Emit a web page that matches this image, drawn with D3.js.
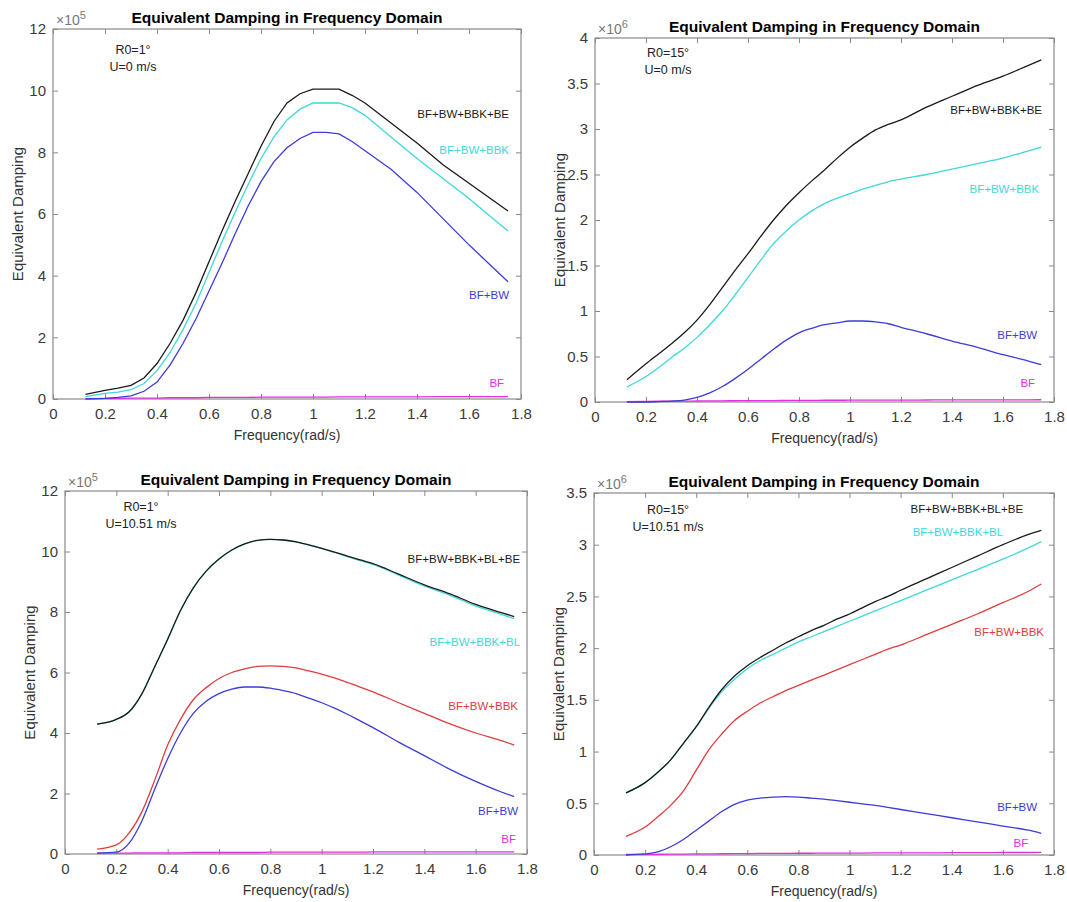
<!DOCTYPE html>
<html>
<head>
<meta charset="utf-8">
<script src="https://cdn.jsdelivr.net/npm/d3@7"></script>
<style>
    body { margin: 0; background: #fff; }
    svg text { font-family: "Liberation Sans", Arial, sans-serif; }
</style>
</head>
<body>
<svg id="chart" width="1067" height="902"></svg>
<script>
// frequency samples (rad/s), shared by every curve
const freq = [0.125, 0.2, 0.25, 0.3, 0.35, 0.4, 0.45, 0.5, 0.55, 0.6, 0.65, 0.7, 0.75, 0.8, 0.85, 0.9, 0.95, 1.0, 1.05, 1.1, 1.15, 1.2, 1.3, 1.4, 1.5, 1.6, 1.7, 1.75];
const xTicks = [0, 0.2, 0.4, 0.6, 0.8, 1, 1.2, 1.4, 1.6, 1.8];

// R0=1 deg, U=0 m/s  (x1e5)
const r1u0_bf = [0.01, 0.02, 0.02, 0.03, 0.03, 0.03, 0.04, 0.04, 0.04, 0.05, 0.05, 0.05, 0.05, 0.06, 0.06, 0.06, 0.06, 0.06, 0.06, 0.07, 0.07, 0.07, 0.07, 0.07, 0.08, 0.08, 0.08, 0.08];
const r1u0_bw = [0.0, 0.02, 0.05, 0.1, 0.25, 0.55, 1.1, 1.8, 2.6, 3.5, 4.4, 5.35, 6.25, 7.05, 7.7, 8.15, 8.45, 8.65, 8.65, 8.6, 8.35, 8.05, 7.45, 6.7, 5.85, 5.0, 4.2, 3.8];
const r1u0_bbk = [0.08, 0.18, 0.22, 0.3, 0.5, 0.92, 1.5, 2.25, 3.1, 4.1, 5.1, 6.05, 6.95, 7.8, 8.5, 9.05, 9.4, 9.6, 9.6, 9.6, 9.45, 9.2, 8.5, 7.8, 7.15, 6.5, 5.8, 5.45];
const r1u0_be = [0.15, 0.28, 0.35, 0.44, 0.68, 1.15, 1.8, 2.55, 3.45, 4.45, 5.45, 6.4, 7.3, 8.2, 9.0, 9.6, 9.9, 10.05, 10.05, 10.05, 9.85, 9.6, 8.95, 8.3, 7.6, 7.0, 6.4, 6.1];

// R0=15 deg, U=0 m/s  (x1e6)
const r15u0_bf = [0.005, 0.007, 0.008, 0.009, 0.01, 0.011, 0.012, 0.013, 0.014, 0.015, 0.016, 0.016, 0.017, 0.018, 0.018, 0.019, 0.019, 0.02, 0.02, 0.021, 0.021, 0.021, 0.022, 0.023, 0.023, 0.024, 0.024, 0.025];
const r15u0_bw = [0, 0, 0.005, 0.01, 0.02, 0.05, 0.1, 0.17, 0.26, 0.36, 0.47, 0.58, 0.68, 0.76, 0.81, 0.85, 0.87, 0.89, 0.89, 0.88, 0.86, 0.82, 0.75, 0.67, 0.6, 0.52, 0.45, 0.41];
const r15u0_bbk = [0.165, 0.28, 0.38, 0.49, 0.59, 0.71, 0.85, 1.0, 1.18, 1.37, 1.56, 1.74, 1.88, 2.0, 2.1, 2.18, 2.24, 2.29, 2.34, 2.38, 2.42, 2.45, 2.5, 2.56, 2.62, 2.68, 2.76, 2.8];
const r15u0_be = [0.245, 0.42, 0.53, 0.64, 0.76, 0.9, 1.07, 1.26, 1.45, 1.63, 1.82, 2.0, 2.16, 2.3, 2.43, 2.55, 2.68, 2.8, 2.9, 2.99, 3.05, 3.1, 3.24, 3.36, 3.48, 3.58, 3.7, 3.76];

// R0=1 deg, U=10.51 m/s  (x1e5)
const r1u10_bf = [0.03, 0.03, 0.03, 0.04, 0.04, 0.04, 0.04, 0.05, 0.05, 0.05, 0.05, 0.05, 0.05, 0.06, 0.06, 0.06, 0.06, 0.06, 0.06, 0.06, 0.06, 0.07, 0.07, 0.07, 0.07, 0.07, 0.07, 0.07];
const r1u10_bw = [0.03, 0.06, 0.36, 1.1, 2.15, 3.15, 4.0, 4.65, 5.05, 5.3, 5.45, 5.52, 5.52, 5.48, 5.4, 5.3, 5.15, 5.0, 4.82, 4.62, 4.4, 4.18, 3.7, 3.25, 2.8, 2.4, 2.05, 1.9];
const r1u10_bbk = [0.16, 0.3, 0.7, 1.4, 2.45, 3.6, 4.45, 5.1, 5.5, 5.8, 6.0, 6.12, 6.2, 6.22, 6.2, 6.15, 6.05, 5.95, 5.82, 5.67, 5.52, 5.36, 5.0, 4.65, 4.3, 4.0, 3.75, 3.6];
const r1u10_bl = [4.29, 4.45, 4.7, 5.3, 6.2, 7.1, 8.05, 8.8, 9.35, 9.75, 10.05, 10.25, 10.37, 10.4, 10.38, 10.32, 10.22, 10.1, 9.97, 9.83, 9.7, 9.57, 9.22, 8.86, 8.55, 8.2, 7.92, 7.78];
const r1u10_be = [4.29, 4.45, 4.7, 5.3, 6.2, 7.1, 8.05, 8.8, 9.35, 9.75, 10.05, 10.25, 10.37, 10.4, 10.38, 10.32, 10.22, 10.1, 9.98, 9.85, 9.72, 9.6, 9.25, 8.9, 8.6, 8.25, 7.98, 7.85];

// R0=15 deg, U=10.51 m/s  (x1e6)
const r15u10_bf = [0.005, 0.006, 0.007, 0.008, 0.009, 0.01, 0.011, 0.012, 0.013, 0.014, 0.015, 0.015, 0.016, 0.017, 0.017, 0.018, 0.018, 0.019, 0.019, 0.02, 0.02, 0.021, 0.021, 0.022, 0.023, 0.024, 0.024, 0.025];
const r15u10_bw = [0.0, 0.01, 0.03, 0.08, 0.15, 0.24, 0.33, 0.42, 0.49, 0.53, 0.55, 0.56, 0.565, 0.56, 0.55, 0.54, 0.525, 0.51, 0.495, 0.48, 0.46, 0.44, 0.4, 0.36, 0.32, 0.28, 0.24, 0.21];
const r15u10_bbk = [0.18, 0.27, 0.37, 0.48, 0.62, 0.82, 1.02, 1.17, 1.3, 1.39, 1.47, 1.53, 1.59, 1.64, 1.69, 1.74, 1.79, 1.84, 1.89, 1.94, 1.99, 2.03, 2.13, 2.23, 2.33, 2.44, 2.55, 2.62];
const r15u10_bl = [0.6, 0.7, 0.8, 0.92, 1.08, 1.24, 1.42, 1.58, 1.7, 1.8, 1.88, 1.94, 2.0, 2.06, 2.11, 2.16, 2.21, 2.26, 2.31, 2.36, 2.41, 2.46, 2.56, 2.66, 2.76, 2.86, 2.97, 3.03];
const r15u10_be = [0.6, 0.7, 0.8, 0.92, 1.08, 1.24, 1.43, 1.6, 1.73, 1.83, 1.91, 1.98, 2.05, 2.11, 2.17, 2.22, 2.28, 2.33, 2.39, 2.45, 2.5, 2.56, 2.67, 2.78, 2.89, 3.0, 3.1, 3.14];

const colors = {
    bf: "#e030e0",
    bw: "#3c3cd6",
    bbk: "#e03c3c",
    cyan: "#3ed8d8",
    black: "#1a1a1a"
};

class DampingPanel {
    constructor(svg, box, opts) {
        this.svg = svg;
        this.box = box;
        this.opts = opts;
    }

    draw() {
        const b = this.box, o = this.opts;
        const g = this.svg.append("g");

        this.x = d3.scaleLinear().domain([0, 1.8]).range([b.left, b.right]);
        this.y = d3.scaleLinear().domain([0, o.yMax]).range([b.bottom, b.top]);

        const fmt = d3.format("~g");

        g.append("rect")
            .attr("x", b.left).attr("y", b.top)
            .attr("width", b.right - b.left).attr("height", b.bottom - b.top)
            .attr("fill", "none").attr("stroke", "#8a8a8a").attr("stroke-width", 1.2);

        const axes = [
            [d3.axisBottom(this.x).tickValues(xTicks).tickFormat(fmt), `translate(0,${b.bottom})`],
            [d3.axisTop(this.x).tickValues(xTicks).tickFormat(""), `translate(0,${b.top})`],
            [d3.axisLeft(this.y).tickValues(o.yTicks).tickFormat(fmt), `translate(${b.left},0)`],
            [d3.axisRight(this.y).tickValues(o.yTicks).tickFormat(""), `translate(${b.right},0)`]
        ];
        axes.forEach(([ax, tr], i) => {
            const a = g.append("g").attr("transform", tr)
                .call(ax.tickSize(-5).tickSizeOuter(0).tickPadding(i === 0 ? 9 : 7));
            a.select(".domain").remove();
            a.selectAll(".tick line").attr("stroke", "#8a8a8a");
            a.selectAll(".tick text")
                .attr("fill", "#3a3a3a")
                .style("font-size", "15px");
        });

        // exponent marker
        g.append("text")
            .attr("x", b.left + 3).attr("y", b.top - 4)
            .attr("fill", "#777").style("font-size", "14px")
            .text("×10")
            .append("tspan").attr("dy", -6).style("font-size", "11px").text(o.exp);

        g.append("text")
            .attr("x", (b.left + b.right) / 2).attr("y", b.top - 6)
            .attr("text-anchor", "middle")
            .style("font-size", "15.5px").style("font-weight", "bold")
            .text("Equivalent Damping in Frequency Domain");

        g.append("text")
            .attr("x", (b.left + b.right) / 2).attr("y", b.bottom + 41)
            .attr("text-anchor", "middle").attr("fill", "#333")
            .style("font-size", "14px")
            .text("Frequency(rad/s)");

        g.append("text")
            .attr("transform", `translate(${b.left - 30},${(b.top + b.bottom) / 2}) rotate(-90)`)
            .attr("text-anchor", "middle").attr("fill", "#333")
            .style("font-size", "15px")
            .text("Equivalent Damping");

        o.notes.forEach((t, i) => {
            g.append("text")
                .attr("x", b.left + o.noteX).attr("y", b.top + o.noteY + i * 17)
                .attr("text-anchor", "middle").attr("fill", "#222")
                .style("font-size", "12.5px")
                .text(t);
        });

        const line = d3.line()
            .x((d, i) => this.x(freq[i]))
            .y(d => this.y(d))
            .curve(o.smooth ? d3.curveMonotoneX : d3.curveLinear);

        g.selectAll(".series")
            .data(o.series)
            .join("path")
            .attr("class", "series")
            .attr("d", d => line(d.values))
            .attr("fill", "none")
            .attr("stroke", d => d.color)
            .attr("stroke-width", 1.3);

        g.selectAll(".lab")
            .data(o.series)
            .join("text")
            .attr("class", "lab")
            .attr("x", d => this.x(d.lx))
            .attr("y", d => this.y(d.ly))
            .attr("dy", "0.35em")
            .attr("text-anchor", "end")
            .attr("fill", d => d.color)
            .style("font-size", "11.5px")
            .text(d => d.name);
    }
}

const svg = d3.select("#chart");

new DampingPanel(svg, {left: 53, right: 521, top: 29, bottom: 399}, {
    yMax: 12, yTicks: [0, 2, 4, 6, 8, 10, 12], exp: "5", smooth: false,
    notes: ["R0=1°", "U=0 m/s"], noteX: 80, noteY: 25,
    series: [
        {name: "BF", values: r1u0_bf, color: colors.bf, lx: 1.735, ly: 0.52},
        {name: "BF+BW", values: r1u0_bw, color: colors.bw, lx: 1.754, ly: 3.37},
        {name: "BF+BW+BBK", values: r1u0_bbk, color: colors.cyan, lx: 1.754, ly: 8.08},
        {name: "BF+BW+BBK+BE", values: r1u0_be, color: colors.black, lx: 1.754, ly: 9.25}
    ]
}).draw();

new DampingPanel(svg, {left: 595, right: 1054, top: 38, bottom: 402}, {
    yMax: 4, yTicks: [0, 0.5, 1, 1.5, 2, 2.5, 3, 3.5, 4], exp: "6", smooth: true,
    notes: ["R0=15°", "U=0 m/s"], noteX: 73, noteY: 19,
    series: [
        {name: "BF", values: r15u0_bf, color: colors.bf, lx: 1.726, ly: 0.21},
        {name: "BF+BW", values: r15u0_bw, color: colors.bw, lx: 1.734, ly: 0.736},
        {name: "BF+BW+BBK", values: r15u0_bbk, color: colors.cyan, lx: 1.742, ly: 2.34},
        {name: "BF+BW+BBK+BE", values: r15u0_be, color: colors.black, lx: 1.753, ly: 3.21}
    ]
}).draw();

new DampingPanel(svg, {left: 65, right: 527, top: 491, bottom: 854}, {
    yMax: 12, yTicks: [0, 2, 4, 6, 8, 10, 12], exp: "5", smooth: true,
    notes: ["R0=1°", "U=10.51 m/s"], noteX: 76, noteY: 20,
    series: [
        {name: "BF", values: r1u10_bf, color: colors.bf, lx: 1.757, ly: 0.5},
        {name: "BF+BW", values: r1u10_bw, color: colors.bw, lx: 1.765, ly: 1.42},
        {name: "BF+BW+BBK", values: r1u10_bbk, color: colors.bbk, lx: 1.765, ly: 4.89},
        {name: "BF+BW+BBK+BL", values: r1u10_bl, color: colors.cyan, lx: 1.773, ly: 7.0},
        {name: "BF+BW+BBK+BL+BE", values: r1u10_be, color: colors.black, lx: 1.773, ly: 9.75}
    ]
}).draw();

new DampingPanel(svg, {left: 594, right: 1054, top: 493, bottom: 855}, {
    yMax: 3.5, yTicks: [0, 0.5, 1, 1.5, 2, 2.5, 3, 3.5], exp: "6", smooth: true,
    notes: ["R0=15°", "U=10.51 m/s"], noteX: 74, noteY: 21,
    series: [
        {name: "BF", values: r15u10_bf, color: colors.bf, lx: 1.699, ly: 0.12},
        {name: "BF+BW", values: r15u10_bw, color: colors.bw, lx: 1.734, ly: 0.46},
        {name: "BF+BW+BBK", values: r15u10_bbk, color: colors.bbk, lx: 1.761, ly: 2.16},
        {name: "BF+BW+BBK+BL", values: r15u10_bl, color: colors.cyan, lx: 1.601, ly: 3.12},
        {name: "BF+BW+BBK+BL+BE", values: r15u10_be, color: colors.black, lx: 1.679, ly: 3.35}
    ]
}).draw();
</script>
</body>
</html>
